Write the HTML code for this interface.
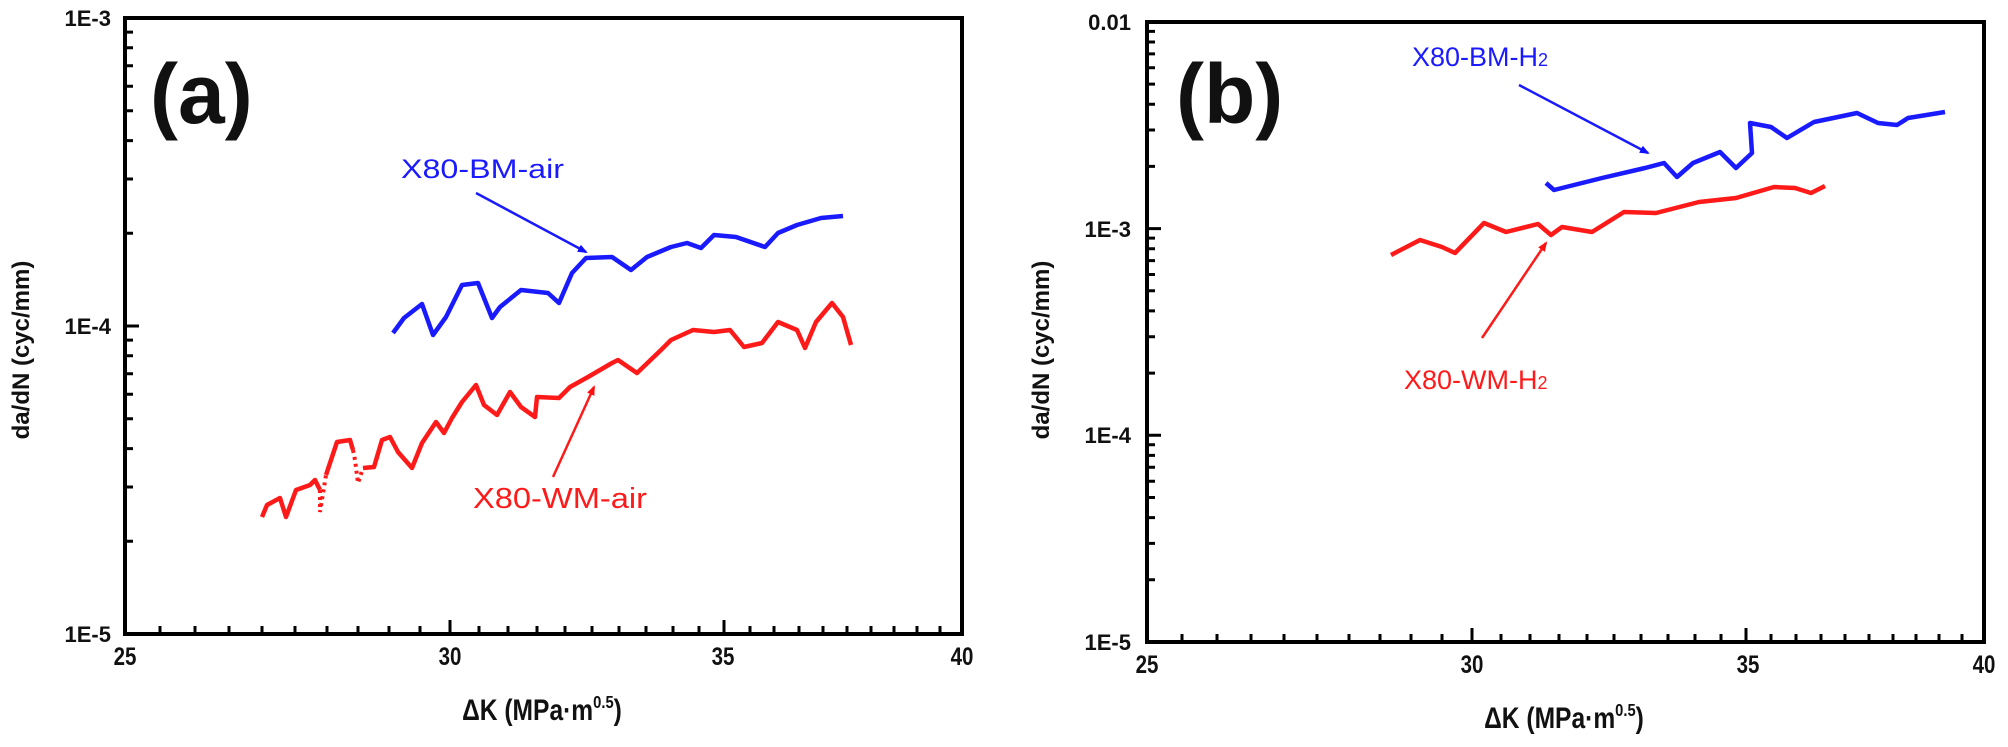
<!DOCTYPE html>
<html><head><meta charset="utf-8"><style>
html,body{margin:0;padding:0;background:#fff;}
svg{display:block;}
.t{font-family:"Liberation Sans",sans-serif;font-weight:bold;fill:#111;}
</style></head><body>
<svg width="2008" height="747" viewBox="0 0 2008 747" xmlns="http://www.w3.org/2000/svg">
<defs>
<marker id="ab" markerWidth="10" markerHeight="10" refX="8" refY="5" orient="auto" markerUnits="userSpaceOnUse"><path d="M0,1 L10,5 L0,9 z" fill="#1010ff"/></marker>
<marker id="ar" markerWidth="10" markerHeight="10" refX="8" refY="5" orient="auto" markerUnits="userSpaceOnUse"><path d="M0,1 L10,5 L0,9 z" fill="#ff1010"/></marker>
</defs>
<!-- ticks -->
<g stroke="#000" stroke-width="3" fill="none">
<path d="M160 634v-8M195 634v-8M229 634v-8M262 634v-8M295 634v-8M327 634v-8M358 634v-8M389 634v-8M420 634v-8M450 634v-14M479 634v-8M508 634v-8M537 634v-8M565 634v-8M592 634v-8M619 634v-8M646 634v-8M673 634v-8M699 634v-8M724 634v-14M750 634v-8M774 634v-8M799 634v-8M823 634v-8M847 634v-8M871 634v-8M894 634v-8M917 634v-8M940 634v-8"/>
<path d="M125 541.3h8M125 487h8M125 448.6h8M125 418.7h8M125 394.3h8M125 373.7h8M125 355.8h8M125 340.1h8M125 326h14M125 233.3h8M125 179h8M125 140.6h8M125 110.7h8M125 86.3h8M125 65.7h8M125 47.8h8M125 32.1h8"/>
<path d="M1182 642v-8M1217 642v-8M1251 642v-8M1284 642v-8M1317 642v-8M1349 642v-8M1380 642v-8M1411 642v-8M1442 642v-8M1472 642v-14M1501 642v-8M1530 642v-8M1559 642v-8M1587 642v-8M1614 642v-8M1641 642v-8M1668 642v-8M1695 642v-8M1721 642v-8M1746 642v-14M1771 642v-8M1796 642v-8M1821 642v-8M1845 642v-8M1869 642v-8M1893 642v-8M1916 642v-8M1939 642v-8M1962 642v-8"/>
<path d="M1147 579.8h8M1147 543.4h8M1147 517.6h8M1147 497.5h8M1147 481.2h8M1147 467.3h8M1147 455.4h8M1147 444.8h8M1147 435.3h14M1147 373.1h8M1147 336.7h8M1147 310.9h8M1147 290.8h8M1147 274.5h8M1147 260.6h8M1147 248.7h8M1147 238.1h8M1147 228.6h14M1147 166.4h8M1147 130h8M1147 104.2h8M1147 84.1h8M1147 67.8h8M1147 53.9h8M1147 42h8M1147 31.4h8"/>
</g>
<!-- Panel frames -->
<rect x="125" y="18" width="837" height="616" fill="none" stroke="#000" stroke-width="4"/>
<rect x="1147" y="22" width="837" height="620" fill="none" stroke="#000" stroke-width="4"/>

<!-- panel a curves -->
<polyline fill="none" stroke="#1a1aff" stroke-width="4.5" stroke-linejoin="round" points="393,333 404,318 422,304 433,335 446,317 462,285 478,283 492,318 500,307 521,290 548,293 559,303 572,273 586,258 612,257 631,270 647,257 671,247 687,243 701,248 714,235 736,237 765,247 778,233 797,225 821,218 843,216"/>
<polyline fill="none" stroke="#ff1a1a" stroke-width="4.5" stroke-linejoin="round" points="262,517 267,505 280,498 286,517 296,490 310,485 315,480 320,490"/>
<polyline fill="none" stroke="#ff1a1a" stroke-width="4" stroke-dasharray="3,4" points="320,490 320,512 326,475"/>
<polyline fill="none" stroke="#ff1a1a" stroke-width="4.5" stroke-linejoin="round" points="326,475 337,442 350,440 353,450"/>
<polyline fill="none" stroke="#ff1a1a" stroke-width="4" stroke-dasharray="3,4" points="353,450 355,460 358,483 363,468"/>
<polyline fill="none" stroke="#ff1a1a" stroke-width="4.5" stroke-linejoin="round" points="363,468 374,467 382,440 390,437 398,452 412,468 422,443 436,422 444,433 452,418 462,402 476,385 484,405 497,415 510,392 521,407 535,417 537,397 559,398 570,387 588,377 612,363 618,360 637,373 661,350 671,340 693,330 714,332 730,330 744,347 762,343 778,322 797,330 805,348 816,322 832,303 843,317 851,345"/>
<!-- panel a annotations -->
<text x="401" y="178" font-family="Liberation Sans,sans-serif" font-size="27" fill="#1a1aff" textLength="163" lengthAdjust="spacingAndGlyphs">X80-BM-air</text>
<line x1="476" y1="193" x2="586" y2="252" stroke="#1a1aff" stroke-width="2.5" marker-end="url(#ab)"/>
<text x="473" y="508" font-family="Liberation Sans,sans-serif" font-size="29" fill="#ff1a1a" textLength="174" lengthAdjust="spacingAndGlyphs">X80-WM-air</text>
<line x1="553" y1="477" x2="594" y2="387" stroke="#ff1a1a" stroke-width="2.5" marker-end="url(#ar)"/>
<text class="t" x="150" y="123" font-size="84">(a)</text>

<!-- panel b curves -->
<polyline fill="none" stroke="#1a1aff" stroke-width="4.5" stroke-linejoin="round" points="1546,183 1554,190 1602,178 1645,168 1664,163 1677,177 1693,163 1720,152 1736,168 1752,153 1750,123 1771,127 1787,138 1814,122 1838,117 1857,113 1878,123 1897,125 1908,118 1945,112"/>
<polyline fill="none" stroke="#ff1a1a" stroke-width="4.5" stroke-linejoin="round" points="1391,255 1420,240 1442,247 1455,253 1484,223 1506,232 1538,224 1551,235 1562,227 1592,232 1624,212 1656,213 1699,202 1736,198 1774,187 1795,188 1811,193 1825,186"/>
<text x="1412" y="66" font-family="Liberation Sans,sans-serif" font-size="27" fill="#1a1aff">X80-BM-H<tspan font-size="18">2</tspan></text>
<line x1="1519" y1="85" x2="1648" y2="153" stroke="#1a1aff" stroke-width="2.5" marker-end="url(#ab)"/>
<text x="1404" y="389" font-family="Liberation Sans,sans-serif" font-size="27" fill="#ff1a1a">X80-WM-H<tspan font-size="18">2</tspan></text>
<line x1="1482" y1="338" x2="1546" y2="243" stroke="#ff1a1a" stroke-width="2.5" marker-end="url(#ar)"/>
<text class="t" x="1176" y="123" font-size="84">(b)</text>

<!-- y tick labels -->
<g class="t" font-size="22" text-anchor="end">
<text x="111" y="26">1E-3</text>
<text x="111" y="334">1E-4</text>
<text x="111" y="642">1E-5</text>
<text x="1131" y="30">0.01</text>
<text x="1131" y="237">1E-3</text>
<text x="1131" y="443">1E-4</text>
<text x="1131" y="650">1E-5</text>
</g>
<!-- x tick labels -->
<g class="t" font-size="25" text-anchor="middle">
<text x="125" y="665" transform="translate(125 0) scale(0.82 1) translate(-125 0)">25</text>
<text x="450" y="665" transform="translate(450 0) scale(0.82 1) translate(-450 0)">30</text>
<text x="723" y="665" transform="translate(723 0) scale(0.82 1) translate(-723 0)">35</text>
<text x="962" y="665" transform="translate(962 0) scale(0.82 1) translate(-962 0)">40</text>
<text x="1147" y="673" transform="translate(1147 0) scale(0.82 1) translate(-1147 0)">25</text>
<text x="1472" y="673" transform="translate(1472 0) scale(0.82 1) translate(-1472 0)">30</text>
<text x="1748" y="673" transform="translate(1748 0) scale(0.82 1) translate(-1748 0)">35</text>
<text x="1984" y="673" transform="translate(1984 0) scale(0.82 1) translate(-1984 0)">40</text>
</g>
<!-- axis titles -->
<g class="t" font-size="30" text-anchor="middle">
<text x="542" y="720" transform="translate(542 0) scale(0.82 1) translate(-542 0)">ΔK (MPa·m<tspan font-size="18" dy="-12">0.5</tspan><tspan dy="12">)</tspan></text>
<text x="1564" y="728" transform="translate(1564 0) scale(0.82 1) translate(-1564 0)">ΔK (MPa·m<tspan font-size="18" dy="-12">0.5</tspan><tspan dy="12">)</tspan></text>
</g>
<g class="t" font-size="24" text-anchor="middle">
<text transform="translate(29 350) rotate(-90)">da/dN (cyc/mm)</text>
<text transform="translate(1049 350) rotate(-90)">da/dN (cyc/mm)</text>
</g>
</svg>
</body></html>
